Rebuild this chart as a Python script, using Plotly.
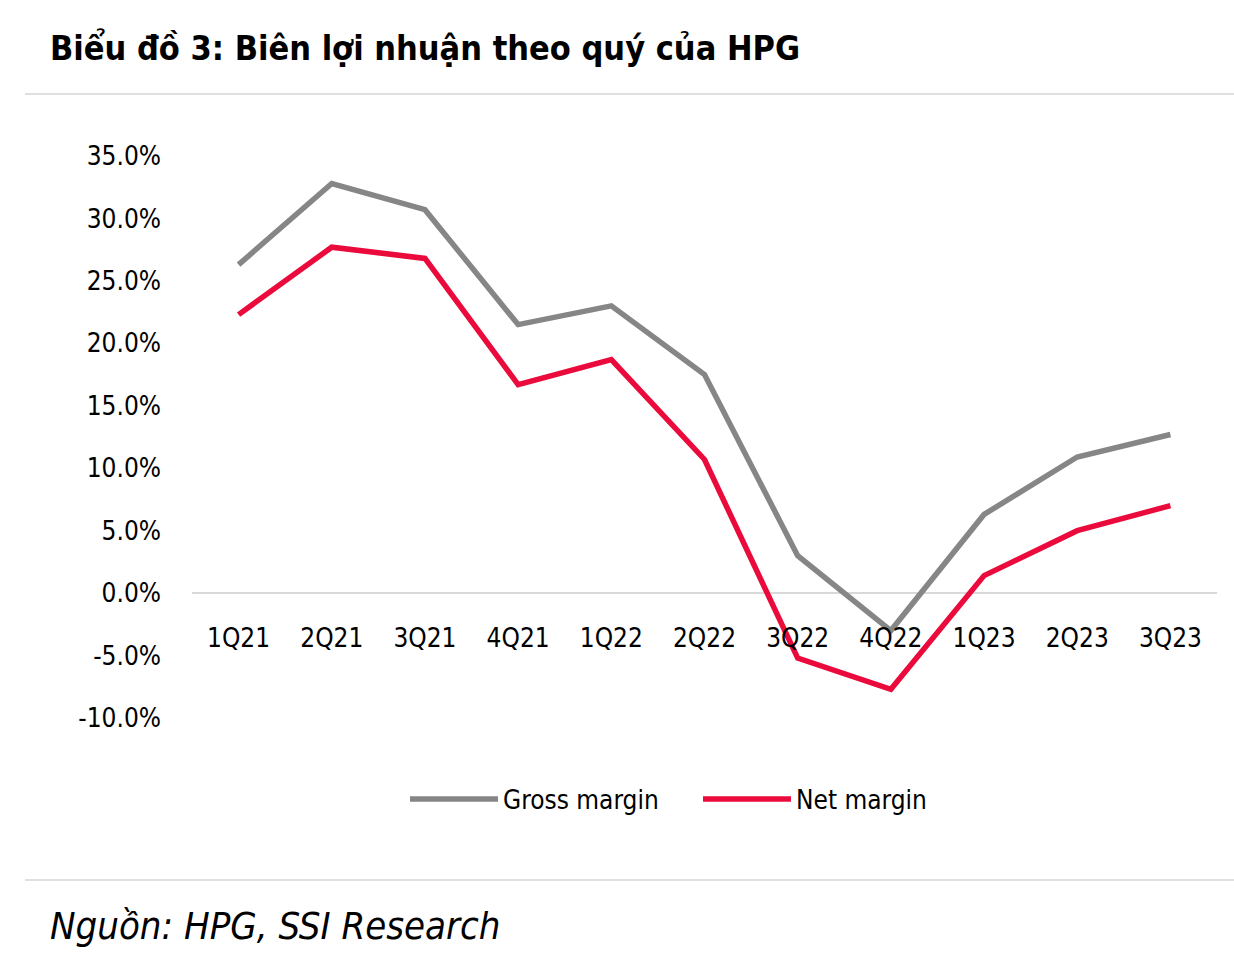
import plotly.graph_objects as go

quarters = ["1Q21", "2Q21", "3Q21", "4Q21", "1Q22", "2Q22", "3Q22", "4Q22", "1Q23", "2Q23", "3Q23"]
gross_margin = [26.3, 32.8, 30.7, 21.5, 23.0, 17.5, 3.0, -3.0, 6.3, 10.9, 12.7]
net_margin = [22.3, 27.7, 26.8, 16.7, 18.7, 10.7, -5.2, -7.7, 1.4, 5.0, 7.0]
y_tick_vals = [-10, -5, 0, 5, 10, 15, 20, 25, 30, 35]
y_tick_labels = ["-10.0%", "-5.0%", "0.0%", "5.0%", "10.0%", "15.0%", "20.0%", "25.0%", "30.0%", "35.0%"]

W, H = 1234, 966
L, R, T, B = 192, 17, 156, 248
PW = W - L - R
PH = H - T - B

def px_x(px):
    return (px - L) / PW

def px_y(py):
    return (H - B - py) / PH

FONT = "DejaVu Sans Condensed, Liberation Sans Narrow, Arial Narrow, sans-serif"
GRAY = "#868686"
RED = "#EA0A3C"

fig = go.Figure()
fig.add_trace(go.Scatter(x=quarters, y=gross_margin, mode="lines", name="Gross margin",
                         line=dict(color=GRAY, width=5.5)))
fig.add_trace(go.Scatter(x=quarters, y=net_margin, mode="lines", name="Net margin",
                         line=dict(color=RED, width=5.5)))

fig.update_layout(
    width=W, height=H,
    margin=dict(l=L, r=R, t=T, b=B),
    paper_bgcolor="white", plot_bgcolor="white",
    font=dict(family=FONT, size=26, color="black"),
    showlegend=True,
    legend=dict(orientation="h", xanchor="left", yanchor="middle",
                x=px_x(405), y=px_y(799), font=dict(size=26, family=FONT),
                itemwidth=88, entrywidth=190, entrywidthmode="pixels", tracegroupgap=0),
    xaxis=dict(type="category", range=[-0.5, 10.5], showgrid=False, zeroline=False,
               showline=False, ticks="", anchor="free", position=px_y(620),
               tickfont=dict(size=26, family=FONT)),
    yaxis=dict(range=[-10, 35], tickvals=y_tick_vals, ticktext=y_tick_labels,
               showgrid=False, zeroline=True, zerolinecolor="#d9d9d9", zerolinewidth=2,
               showline=False, ticks="", ticklabelstandoff=30,
               tickfont=dict(size=26, family=FONT)),
)

# title
fig.add_annotation(text="<b>Biểu đồ 3: Biên lợi nhuận theo quý của HPG</b>",
                   xref="paper", yref="paper", x=px_x(48), y=px_y(48),
                   xanchor="left", yanchor="middle", showarrow=False,
                   font=dict(size=34, family=FONT, color="black"))
# source
fig.add_annotation(text="<i>Nguồn: HPG, SSI Research</i>",
                   xref="paper", yref="paper", x=px_x(48), y=px_y(926),
                   xanchor="left", yanchor="middle", showarrow=False,
                   font=dict(size=38, family=FONT, color="black"))
# separator lines
for py in (94, 880):
    fig.add_shape(type="line", xref="paper", yref="paper",
                  x0=px_x(25), x1=px_x(1234), y0=px_y(py), y1=px_y(py),
                  line=dict(color="#d4d4d4", width=1.5))

fig.write_html("out.html", config={"displayModeBar": False},
               post_script="document.body.style.margin='0';")
